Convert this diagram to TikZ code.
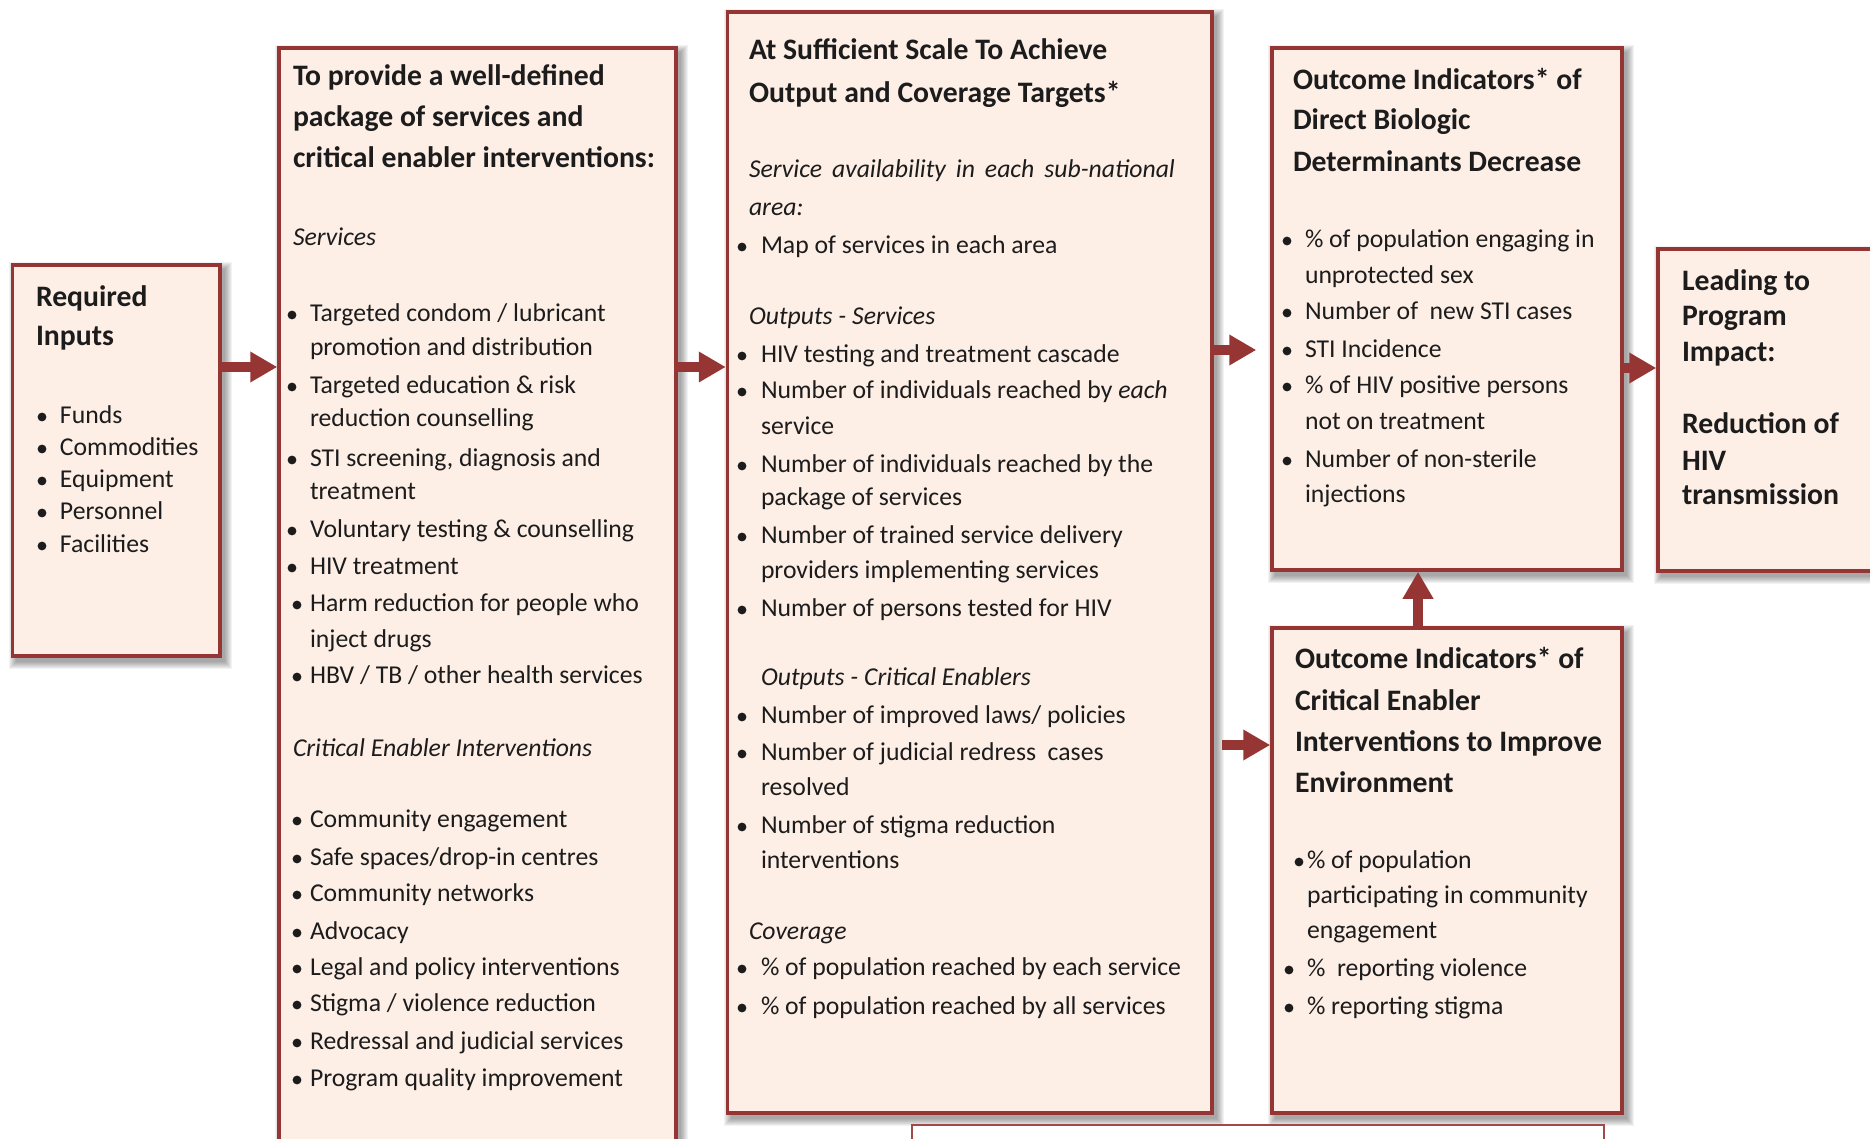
\documentclass[tikz,border=0pt]{standalone}
\usepackage{fontspec}
\setmainfont{Carlito}
\usetikzlibrary{arrows.meta,fit,backgrounds}

\definecolor{boxred}{RGB}{150,54,52}
\definecolor{boxfill}{RGB}{253,238,230}
\definecolor{ink}{RGB}{28,28,28}

% heading font for the panel titles
\newcommand{\hd}{\fontsize{14.85}{17}\selectfont\bfseries}

% one text line per entry: x / baseline / bullet offset (0 = none) / text
\newcommand{\panellines}[2]{%
  \foreach \pX/\pY/\pB/\pT [count=\pN] in {#2} {
    \node[txt] (#1-\pN) at (\pX,\pY+3.5) {\pT};
    \ifnum\pB>0 \fill[ink] (\pX-\pB,\pY-3) circle (4.4); \fi
  }}

\begin{document}
\begin{tikzpicture}[x=0.5pt,y=-0.5pt,
  panel/.style={draw=boxred, line width=1.75pt, fill=boxfill, inner sep=0pt},
  notepanel/.style={draw=boxred!90, line width=1.2pt, fill=white, inner sep=0pt},
  flowarrow/.style={draw=boxred, line width=4.6pt,
    -{Triangle[length=13.5pt,width=14.5pt]}},
  txt/.style={anchor=base west, inner sep=0pt, outer sep=0pt, text=ink,
    font=\fontsize{12.85}{15}\selectfont},
]
\useasboundingbox (0,0) rectangle (1870,1139);
\clip (0,0) rectangle (1870,1139);

% panels
\node[panel, fit={(12.5,265) (220,656)}] (inputs) {};
\node[panel, fit={(279,48) (676,1170)}] (package) {};
\node[panel, fit={(727.5,12) (1212,1113)}] (scale) {};
\node[panel, fit={(1272,48) (1622,570)}] (biologic) {};
\node[panel, fit={(1658,249) (1910,571)}] (impact) {};
\node[panel, fit={(1272,628) (1622,1113)}] (enabler) {};
\node[notepanel, fit={(912,1125) (1604,1170)}] (note) {};

% soft drop shadows
\begin{scope}[on background layer]
  \foreach \n in {inputs,package,scale,biologic,impact,enabler}
    \foreach \k in {0,...,7}
      \fill[black, opacity=0.05]
        ([shift={(5-\k,6-\k)}]\n.north west) rectangle
        ([shift={(3+\k,4+\k)}]\n.south east);
\end{scope}

% connectors
\coordinate (rowA) at (0,367);
\coordinate (rowC) at (0,350);
\coordinate (rowD) at (0,368);
\coordinate (rowE) at (0,745);
\coordinate (colF) at (1418,0);
\draw[flowarrow] (inputs.east |- rowA) -- (package.west |- rowA);
\draw[flowarrow] (package.east |- rowA) -- (scale.west |- rowA);
\draw[flowarrow, shorten >=7pt] (scale.east |- rowC) -- (biologic.west |- rowC);
\draw[flowarrow, shorten <=4pt] (scale.east |- rowE) -- (enabler.west |- rowE);
\draw[flowarrow] (enabler.north -| colF) -- (biologic.south -| colF);
\draw[flowarrow] (biologic.east |- rowD) -- (impact.west |- rowD);

% texts
\panellines{in}{
  {36}/{303}/{0}/{\hd Required},
  {36}/{342}/{0}/{\hd Inputs},
  {60}/{420}/{18}/{Funds},
  {60}/{452}/{18}/{Commodities},
  {60}/{484}/{18}/{Equipment},
  {60}/{516}/{18}/{Personnel},
  {60}/{549}/{18}/{Facilities}}

\panellines{pk}{
  {293}/{82}/{0}/{\hd To provide a well-defined},
  {293}/{123}/{0}/{\hd package of services and},
  {293}/{164}/{0}/{\hd critical enabler interventions:},
  {293}/{242}/{0}/{\itshape Services},
  {310}/{318}/{18}/{Targeted condom / lubricant},
  {310}/{352}/{0}/{promotion and distribution},
  {310}/{390}/{18}/{Targeted education \& risk},
  {310}/{423}/{0}/{reduction counselling},
  {310}/{463}/{18}/{STI screening, diagnosis and},
  {310}/{496}/{0}/{treatment},
  {310}/{534}/{18}/{Voluntary testing \& counselling},
  {310}/{571}/{18}/{HIV treatment},
  {310}/{608}/{13}/{Harm reduction for people who},
  {310}/{644}/{0}/{inject drugs},
  {310}/{680}/{13}/{HBV / TB / other health services},
  {293}/{753}/{0}/{\itshape Critical Enabler Interventions},
  {310}/{824}/{13}/{Community engagement},
  {310}/{862}/{13}/{Safe spaces/drop-in centres},
  {310}/{898}/{13}/{Community networks},
  {310}/{936}/{13}/{Advocacy},
  {310}/{972}/{13}/{Legal and policy interventions},
  {310}/{1008}/{13}/{Stigma / violence reduction},
  {310}/{1046}/{13}/{Redressal and judicial services},
  {310}/{1083}/{13}/{Program quality improvement}}

\panellines{sc}{
  {749}/{56}/{0}/{\hd At Sufficient Scale To Achieve},
  {749}/{99}/{0}/{\hd Output and Coverage Targets*},
  {749}/{174}/{0}/{\itshape\makebox[213pt][s]{Service availability in each sub-national}},
  {749}/{212}/{0}/{\itshape area:},
  {761}/{250}/{19}/{Map of services in each area},
  {749}/{321}/{0}/{\itshape Outputs - Services},
  {761}/{359}/{19}/{HIV testing and treatment cascade},
  {761}/{395}/{19}/{Number of individuals reached by \textit{each}},
  {761}/{431}/{0}/{service},
  {761}/{469}/{19}/{Number of individuals reached by the},
  {761}/{502}/{0}/{package of services},
  {761}/{540}/{19}/{Number of trained service delivery},
  {761}/{575}/{0}/{providers implementing services},
  {761}/{613}/{19}/{Number of persons tested for HIV},
  {761}/{682}/{0}/{\itshape Outputs - Critical Enablers},
  {761}/{720}/{19}/{Number of improved laws/ policies},
  {761}/{757}/{19}/{Number of judicial redress\ \ cases},
  {761}/{792}/{0}/{resolved},
  {761}/{830}/{19}/{Number of stigma reduction},
  {761}/{865}/{0}/{interventions},
  {749}/{936}/{0}/{\itshape Coverage},
  {761}/{972}/{19}/{\% of population reached by each service},
  {761}/{1011}/{19}/{\% of population reached by all services}}

\panellines{bi}{
  {1293}/{86}/{0}/{\hd Outcome Indicators* of},
  {1293}/{126}/{0}/{\hd Direct Biologic},
  {1293}/{168}/{0}/{\hd Determinants Decrease},
  {1305}/{244}/{18}/{\% of population engaging in},
  {1305}/{280}/{0}/{unprotected sex},
  {1305}/{316}/{18}/{Number of\ \ new STI cases},
  {1305}/{354}/{18}/{STI Incidence},
  {1305}/{390}/{18}/{\% of HIV positive persons},
  {1305}/{426}/{0}/{not on treatment},
  {1305}/{464}/{18}/{Number of non-sterile},
  {1305}/{499}/{0}/{injections}}

\panellines{im}{
  {1682}/{287}/{0}/{\hd Leading to},
  {1682}/{322}/{0}/{\hd Program},
  {1682}/{358}/{0}/{\hd Impact:},
  {1682}/{430}/{0}/{\hd Reduction of},
  {1682}/{467}/{0}/{\hd HIV},
  {1682}/{501}/{0}/{\hd transmission}}

\panellines{en}{
  {1295}/{665}/{0}/{\hd Outcome Indicators* of},
  {1295}/{707}/{0}/{\hd Critical Enabler},
  {1295}/{748}/{0}/{\hd Interventions to Improve},
  {1295}/{789}/{0}/{\hd Environment},
  {1307}/{865}/{8}/{\% of population},
  {1307}/{900}/{0}/{participating in community},
  {1307}/{935}/{0}/{engagement},
  {1307}/{973}/{18}/{\%\ \ reporting violence},
  {1307}/{1011}/{18}/{\% reporting stigma}}
\end{tikzpicture}
\end{document}
